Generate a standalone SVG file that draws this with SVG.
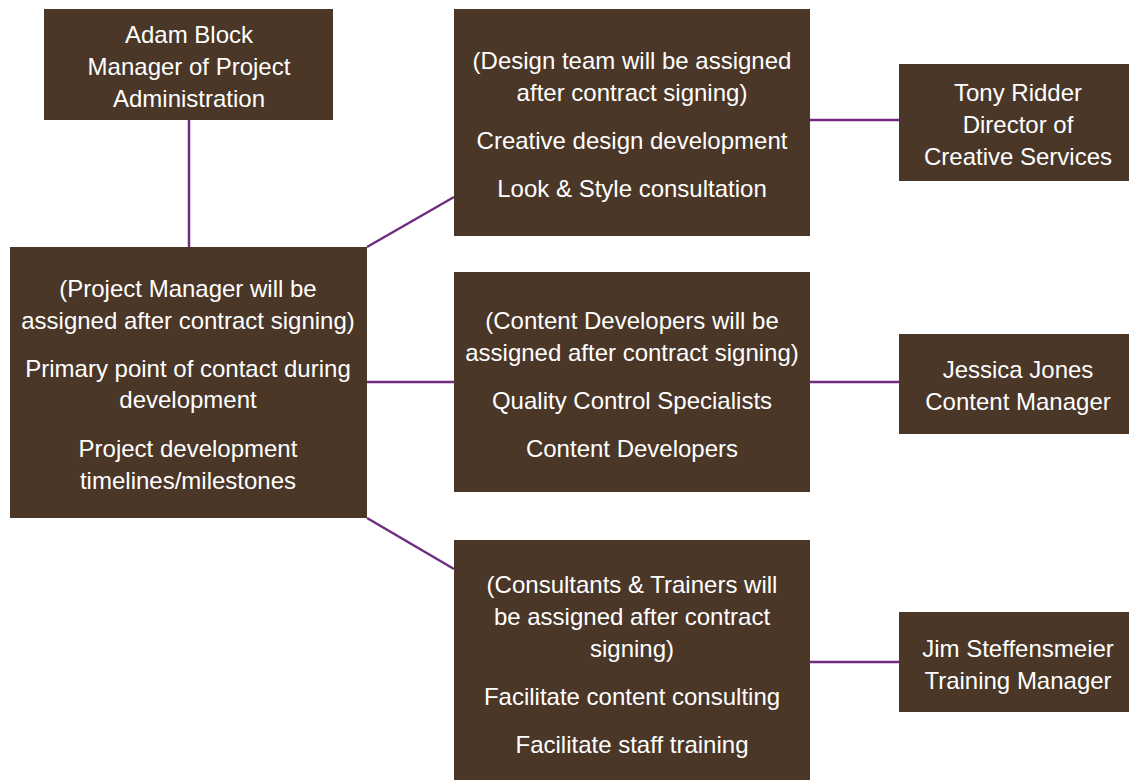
<svg xmlns="http://www.w3.org/2000/svg" width="1129" height="781" viewBox="0 0 1129 781">
<style>
.box{fill:#4a3728}
.t{font-family:"Liberation Sans",Arial,sans-serif;font-size:24px;fill:#ffffff;text-anchor:middle}
.c{stroke:#6f2c80;stroke-width:2.5;fill:none}
</style>
<rect width="1129" height="781" fill="#ffffff"/>
<g id="connectors">
<line class="c" x1="189" y1="120" x2="189" y2="247"/>
<line class="c" x1="367" y1="247" x2="454" y2="197"/>
<line class="c" x1="367" y1="382" x2="454" y2="382"/>
<line class="c" x1="367" y1="518" x2="454" y2="569"/>
<line class="c" x1="810" y1="120" x2="899" y2="120"/>
<line class="c" x1="810" y1="382" x2="899" y2="382"/>
<line class="c" x1="810" y1="662" x2="899" y2="662"/>
</g>
<g id="adam">
<rect class="box" x="44" y="9" width="289" height="111"/>
<text class="t" x="189" y="43">Adam Block</text>
<text class="t" x="189" y="75">Manager of Project</text>
<text class="t" x="189" y="107">Administration</text>
</g>
<g id="pm">
<rect class="box" x="10" y="247" width="357" height="271"/>
<text class="t" x="188" y="297">(Project Manager will be</text>
<text class="t" x="188" y="329">assigned after contract signing)</text>
<text class="t" x="188" y="377">Primary point of contact during</text>
<text class="t" x="188" y="408">development</text>
<text class="t" x="188" y="457">Project development</text>
<text class="t" x="188" y="489">timelines/milestones</text>
</g>
<g id="design">
<rect class="box" x="454" y="9" width="356" height="227"/>
<text class="t" x="632" y="69">(Design team will be assigned</text>
<text class="t" x="632" y="101">after contract signing)</text>
<text class="t" x="632" y="149">Creative design development</text>
<text class="t" x="632" y="197">Look &amp; Style consultation</text>
</g>
<g id="content">
<rect class="box" x="454" y="272" width="356" height="220"/>
<text class="t" x="632" y="329">(Content Developers will be</text>
<text class="t" x="632" y="361">assigned after contract signing)</text>
<text class="t" x="632" y="409">Quality Control Specialists</text>
<text class="t" x="632" y="457">Content Developers</text>
</g>
<g id="consultants">
<rect class="box" x="454" y="540" width="356" height="240"/>
<text class="t" x="632" y="593">(Consultants &amp; Trainers will</text>
<text class="t" x="632" y="625">be assigned after contract</text>
<text class="t" x="632" y="657">signing)</text>
<text class="t" x="632" y="705">Facilitate content consulting</text>
<text class="t" x="632" y="753">Facilitate staff training</text>
</g>
<g id="tony">
<rect class="box" x="899" y="64" width="230" height="117"/>
<text class="t" x="1018" y="101">Tony Ridder</text>
<text class="t" x="1018" y="133">Director of</text>
<text class="t" x="1018" y="165">Creative Services</text>
</g>
<g id="jessica">
<rect class="box" x="899" y="334" width="230" height="100"/>
<text class="t" x="1018" y="378">Jessica Jones</text>
<text class="t" x="1018" y="410">Content Manager</text>
</g>
<g id="jim">
<rect class="box" x="899" y="612" width="230" height="100"/>
<text class="t" x="1018" y="657">Jim Steffensmeier</text>
<text class="t" x="1018" y="689">Training Manager</text>
</g>
</svg>
